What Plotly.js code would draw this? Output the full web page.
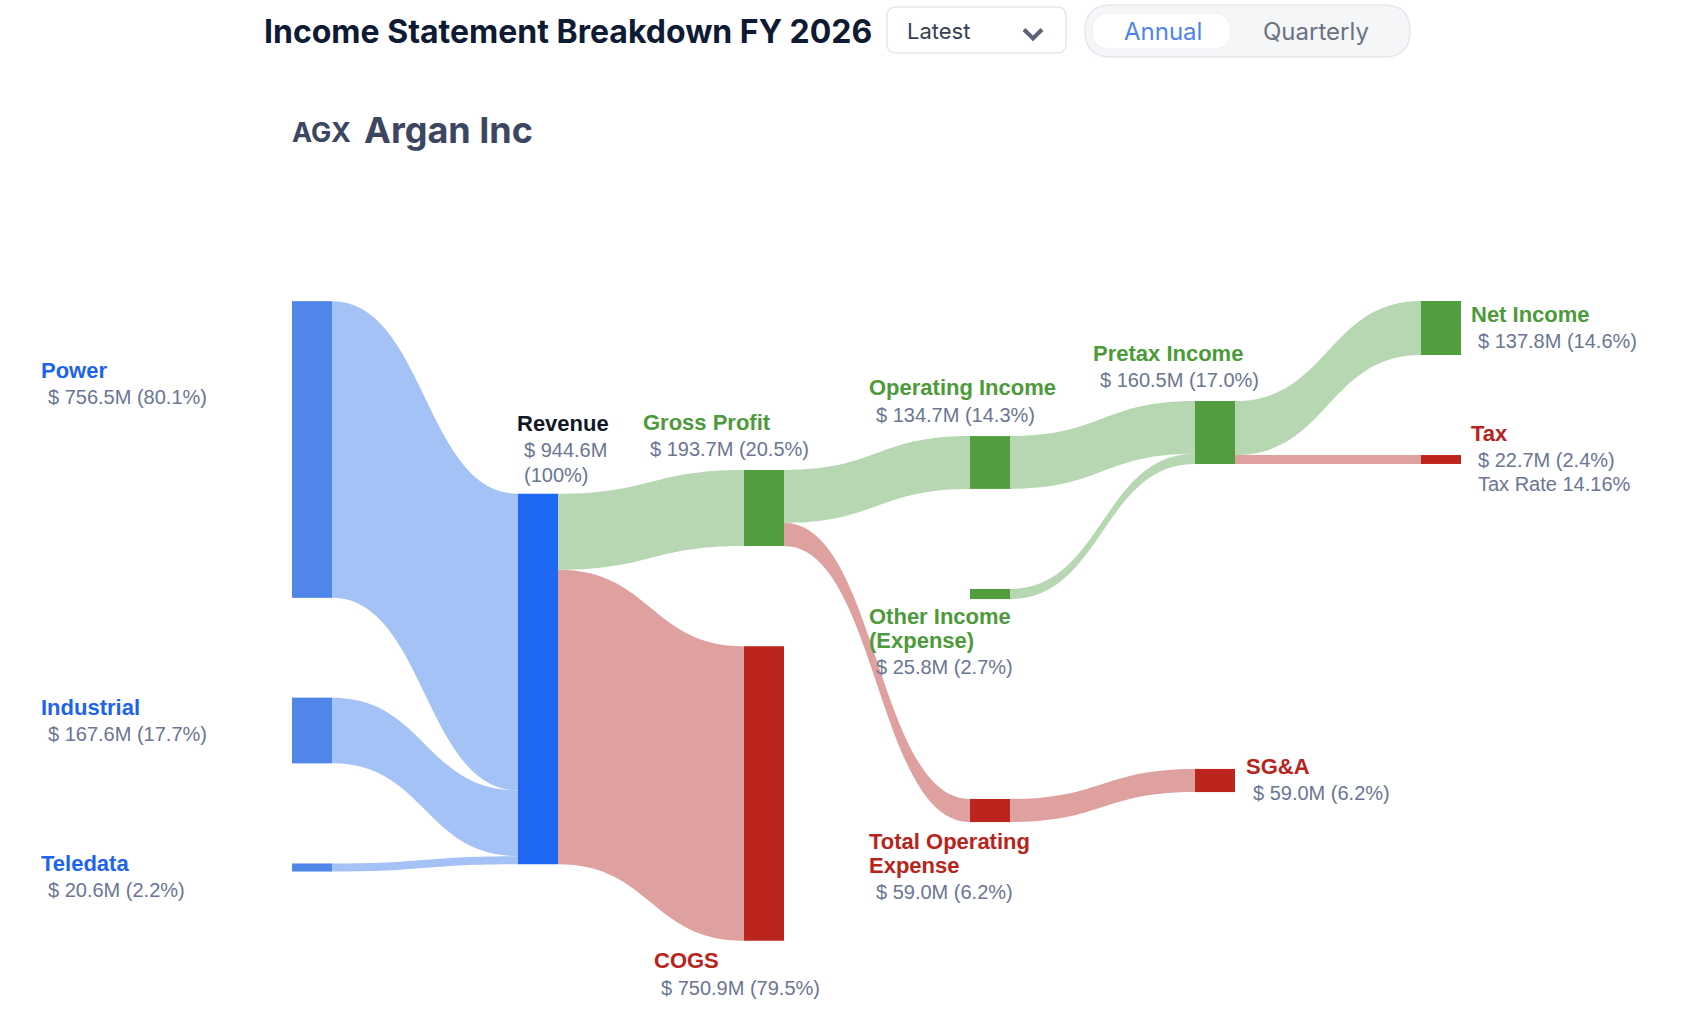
<!DOCTYPE html>
<html>
<head>
<meta charset="utf-8">
<script src="https://cdn.plot.ly/plotly-3.0.1.min.js"></script>
<style>
  html, body { margin: 0; padding: 0; background: #fff; }
  #chart { width: 1708px; height: 1012px; }
</style>
</head>
<body>
<div id="chart"></div>
<script>
// ---- data ----
const fiscalYear = 2026;
const ticker = "AGX";
const companyName = "Argan Inc";
const nodeNames = ["Power", "Industrial", "Teledata", "Revenue", "Gross Profit", "COGS",
  "Operating Income", "Other Income (Expense)", "Total Operating Expense",
  "Pretax Income", "SG&A", "Net Income", "Tax"];
const nodeValues = [756.5, 167.6, 20.6, 944.6, 193.7, 750.9, 134.7, 25.8, 59.0, 160.5, 59.0, 137.8, 22.7];
const nodeKinds = ["segment", "segment", "segment", "revenue", "profit", "cost",
  "profit", "profit", "cost", "profit", "cost", "profit", "cost"];
const linkSource = [0, 1, 2, 3, 3, 4, 4, 6, 7, 8, 9, 9];
const linkTarget = [3, 3, 3, 4, 5, 6, 8, 9, 9, 10, 11, 12];
const linkValues = [756.5, 167.6, 20.6, 193.7, 750.9, 134.7, 59.0, 134.7, 25.8, 59.0, 137.8, 22.7];
const taxRate = 14.16;

// ---- layout helpers (pixels of the 1708x1012 page) ----
const W = 1708, H = 1012;
const colX = [312, 538, 764, 990, 1215, 1441];
const nodeCol = [0, 0, 0, 1, 2, 2, 3, 3, 3, 4, 4, 5, 5];
const nodeCY = [449.5, 730.5, 867.5, 679, 508, 793.5, 462.5, 594, 810.5, 432.5, 780.5, 328, 459.5];
const labelX = [40, 40, 40, 516, 642, 653, 868, 868, 868, 1092, 1245, 1470, 1470];
const labelY = [370, 707, 863, 423.5, 422, 960.5, 387.5, 616, 841, 353, 766, 314, 433];
const nameBreaks = { 7: ["Other Income", "(Expense)"], 8: ["Total Operating", "Expense"] };

const nodeColor = { segment: "#5086e9", revenue: "#1f68f3", profit: "#529e3e", cost: "#bb251d" };
const linkColor = { revenue: "#a4c2f5", profit: "#b7d7b3", cost: "#dfa0a0" };
const nameColor = { segment: "#1d63ed", revenue: "#111827", profit: "#4c9a3a", cost: "#b8231b" };
const grey = "#6b7594";
const sans = "Liberation Sans, Arial, sans-serif";
const inter = "Inter, Roboto, sans-serif";

const revenue = nodeValues[3];
const px = v => v / W, py = v => 1 - v / H;

function textAt(x, y, text, size, color, family) {
  return {
    xref: "paper", yref: "paper", x: px(x), y: py(y),
    xanchor: "left", yanchor: "middle", showarrow: false, borderpad: 0,
    text: text, font: { family: family || sans, size: size, color: color }
  };
}

function roundRect(x0, y0, x1, y1, r) {
  const X = v => px(v).toFixed(5), Y = v => py(v).toFixed(5);
  return `M${X(x0 + r)},${Y(y0)} L${X(x1 - r)},${Y(y0)} Q${X(x1)},${Y(y0)} ${X(x1)},${Y(y0 + r)} ` +
    `L${X(x1)},${Y(y1 - r)} Q${X(x1)},${Y(y1)} ${X(x1 - r)},${Y(y1)} L${X(x0 + r)},${Y(y1)} ` +
    `Q${X(x0)},${Y(y1)} ${X(x0)},${Y(y1 - r)} L${X(x0)},${Y(y0 + r)} Q${X(x0)},${Y(y0)} ${X(x0 + r)},${Y(y0)} Z`;
}

// node labels: bold coloured name, grey value lines
const annotations = [];
nodeNames.forEach((name, i) => {
  const lines = nameBreaks[i] || [name];
  let y = labelY[i];
  lines.forEach((l, k) => {
    if (k > 0) y += 24;
    annotations.push(textAt(labelX[i], y, "<b>" + l + "</b>", 22, nameColor[nodeKinds[i]]));
  });
  const v = nodeValues[i];
  let valLines;
  if (i === 3) valLines = ["$ " + v.toFixed(1) + "M", "(100%)"];
  else valLines = ["$ " + v.toFixed(1) + "M (" + (v / revenue * 100).toFixed(1) + "%)"];
  if (name === "Tax") valLines.push("Tax Rate " + taxRate.toFixed(2) + "%");
  y += 27;
  valLines.forEach((l, k) => {
    if (k > 0) y += 24;
    annotations.push(textAt(labelX[i] + 7, y, l, 20, grey));
  });
});

// header
annotations.push(textAt(263, 31, "<b>Income Statement Breakdown FY " + fiscalYear + "</b>", 32, "#0f1a33", inter));
annotations.push(textAt(906, 31, "Latest", 22, "#374151", inter));
annotations.push(textAt(1123, 31.5, "Annual", 24, "#4d84ef", inter));
annotations.push(textAt(1262, 31.5, "Quarterly", 24, "#6b7280", inter));
annotations.push(textAt(291, 132.5, "<b>" + ticker + "</b>", 27, "#3d4661", inter));
annotations.push(textAt(363, 130.5, "<b>" + companyName + "</b>", 36, "#3d4661", inter));

const shapes = [
  { type: "path", xref: "paper", yref: "paper", path: roundRect(887, 7, 1066, 53, 9),
    fillcolor: "#ffffff", line: { color: "#e3e7ee", width: 1.5 } },
  { type: "path", xref: "paper", yref: "paper",
    path: `M${px(1024)},${py(29.5)} L${px(1033)},${py(38.5)} L${px(1042)},${py(29.5)}`,
    line: { color: "#5b6275", width: 4 } },
  { type: "path", xref: "paper", yref: "paper", path: roundRect(1085, 5, 1410, 57, 26),
    fillcolor: "#f5f6f8", line: { color: "#e4e7ec", width: 1.5 } },
  { type: "path", xref: "paper", yref: "paper", path: roundRect(1092, 13, 1231, 49, 18),
    fillcolor: "#ffffff", line: { color: "#eef0f3", width: 1 } }
];

const trace = {
  type: "sankey",
  arrangement: "fixed",
  domain: { x: [0, 1], y: [0, 1] },
  node: {
    label: nodeNames.map(() => ""),
    customdata: nodeNames,
    hovertemplate: "%{customdata}<br>$ %{value:.1f}M<extra></extra>",
    x: nodeCol.map(c => px(colX[c])),
    y: nodeCY.map(v => v / H),
    pad: 320.75,
    thickness: 40,
    align: "center",
    color: nodeKinds.map(k => nodeColor[k]),
    line: { width: 0 }
  },
  link: {
    source: linkSource,
    target: linkTarget,
    value: linkValues,
    color: linkTarget.map(t => linkColor[nodeKinds[t]]),
    line: { width: 0 },
    hovertemplate: "%{source.customdata} → %{target.customdata}<br>$ %{value:.1f}M<extra></extra>"
  }
};

const layout = {
  width: W, height: H,
  margin: { t: 0, b: 0, l: 0, r: 0 },
  paper_bgcolor: "#ffffff",
  font: { family: sans },
  showlegend: false,
  annotations: annotations,
  shapes: shapes
};

Plotly.newPlot("chart", [trace], layout, { displayModeBar: false, responsive: false });
</script>
</body>
</html>
